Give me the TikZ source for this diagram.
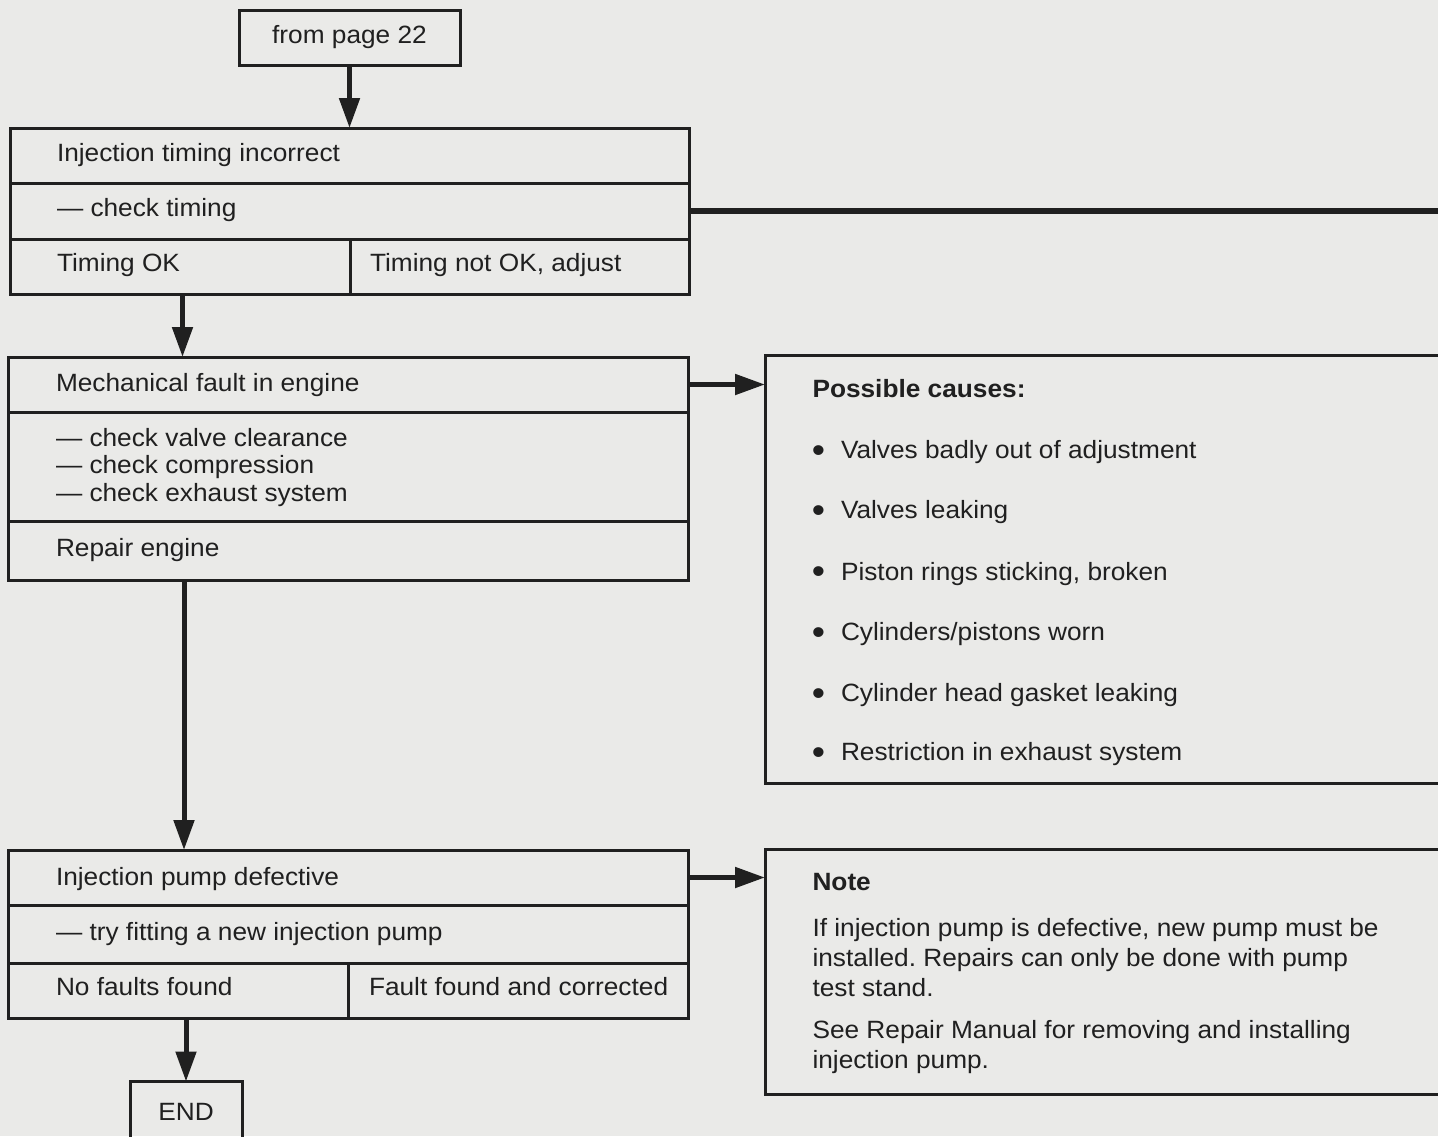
\documentclass[tikz,border=0pt]{standalone}
\usepackage{fontspec}
\setmainfont[FakeStretch=1.05]{Liberation Sans}
\usetikzlibrary{arrows.meta}
\definecolor{ink}{RGB}{32,32,32}
\definecolor{paper}{RGB}{234,234,232}
\newcommand\myfs{\fontsize{25}{30}\selectfont\frenchspacing}
\begin{document}
\begin{tikzpicture}[x=1pt,y=-1pt,
  cell/.style={draw=ink,line width=3pt,rectangle,inner sep=0pt,outer sep=0pt,anchor=north west},
  txt/.style={text=ink,inner sep=0pt,outer sep=0pt,anchor=base west,font=\myfs},
  ctxt/.style={txt,anchor=base},
  btxt/.style={txt,font=\myfs\bfseries},
  dot/.style={txt,anchor=base,font=\fontsize{36}{36}\selectfont},
  conn/.style={draw=ink,line width=5pt},
  arr/.style={conn,-{Triangle[length=30pt,width=20pt]}}]
\useasboundingbox (0,0) rectangle (1438,1136);
\clip (0,0) rectangle (1438,1136);
\fill[paper] (0,0) rectangle (1438,1136);

% from page 22
\node[cell,minimum width=221pt,minimum height=55.5pt] (p22) at (239,10) {};
\node[ctxt] (p22t) at (349.5,43.5) {from page 22};

% box 1
\node[cell,minimum width=679pt,minimum height=55pt] (b1a) at (10,128) {};
\node[cell,minimum width=679pt,minimum height=56pt] (b1b) at (10,183) {};
\node[cell,minimum width=340pt,minimum height=55pt] (b1l) at (10,239) {};
\node[cell,minimum width=339pt,minimum height=55pt] (b1r) at (350,239) {};
\node[txt] (b1at) at (57,161.5) {Injection timing incorrect};
\node[txt] (b1bt) at (57,216) {— check timing};
\node[txt] (b1lt) at (57,271.5) {Timing OK};
\node[txt] (b1rt) at (370,271.5) {Timing not OK, adjust};
\coordinate (offR) at (1450,211);

% box 2
\node[cell,minimum width=679.5pt,minimum height=55pt] (b2a) at (8.5,357) {};
\node[cell,minimum width=679.5pt,minimum height=109pt] (b2b) at (8.5,412) {};
\node[cell,minimum width=679.5pt,minimum height=59pt] (b2c) at (8.5,521) {};
\node[txt] (b2at) at (56,391.5) {Mechanical fault in engine};
\node[txt] (b2b1) at (56,446.5) {— check valve clearance};
\node[txt] (b2b2) at (56,473.5) {— check compression};
\node[txt] (b2b3) at (56,501.5) {— check exhaust system};
\node[txt] (b2ct) at (56,556.5) {Repair engine};

% box 3
\node[cell,minimum width=700pt,minimum height=428pt] (b3) at (765,355) {};
\node[btxt] (b3h) at (812.5,397) {Possible causes:};
\node[dot] (d1) at (818.5,462) {•};
\node[txt] (c1) at (841,458.5) {Valves badly out of adjustment};
\node[dot] (d2) at (818.5,522) {•};
\node[txt] (c2) at (841,518.5) {Valves leaking};
\node[dot] (d3) at (818.5,583.5) {•};
\node[txt] (c3) at (841,580) {Piston rings sticking, broken};
\node[dot] (d4) at (818.5,644) {•};
\node[txt] (c4) at (841,640.5) {Cylinders/pistons worn};
\node[dot] (d5) at (818.5,705) {•};
\node[txt] (c5) at (841,701.5) {Cylinder head gasket leaking};
\node[dot] (d6) at (818.5,764) {•};
\node[txt] (c6) at (841,760.5) {Restriction in exhaust system};

% box 4
\node[cell,minimum width=680.5pt,minimum height=55pt] (b4a) at (8,850) {};
\node[cell,minimum width=680.5pt,minimum height=58pt] (b4b) at (8,905) {};
\node[cell,minimum width=340.5pt,minimum height=55pt] (b4l) at (8,963) {};
\node[cell,minimum width=340pt,minimum height=55pt] (b4r) at (348.5,963) {};
\node[txt] (b4at) at (56,885) {Injection pump defective};
\node[txt] (b4bt) at (56,940) {— try fitting a new injection pump};
\node[txt] (b4lt) at (56,995) {No faults found};
\node[txt] (b4rt) at (369,995) {Fault found and corrected};
\coordinate (j2) at (184,700);

% box 5
\node[cell,minimum width=700pt,minimum height=245pt] (b5) at (765,849) {};
\node[btxt] (b5h) at (812.5,890) {Note};
\node[txt] (n1) at (812.5,936.5) {If injection pump is defective, new pump must be};
\node[txt] (n2) at (812.5,966.5) {installed. Repairs can only be done with pump};
\node[txt] (n3) at (812.5,996) {test stand.};
\node[txt] (n4) at (812.5,1038.5) {See Repair Manual for removing and installing};
\node[txt] (n5) at (812.5,1068.5) {injection pump.};

% END
\node[cell,minimum width=112pt,minimum height=70pt] (endb) at (130,1081.5) {};
\node[ctxt] (endt) at (186,1120) {END};

% connectors
\draw[arr] (p22.south) -- (p22.south |- b1a.north);
\draw[conn,line width=6pt] (b1b.east) -- (b1b.east -| offR);
\draw[arr] ([xshift=2.5pt]b1l.south) -- ([xshift=2.5pt]b1l.south |- b2a.north);
\draw[arr] (b2a.east) -- (b2a.east -| b3.west);
\draw[arr] (b2c.south -| j2) -- (b4a.north -| j2);
\draw[arr] (b4a.east) -- (b4a.east -| b5.west);
\draw[arr] (b4l.south -| endb.north) -- (endb.north);
\end{tikzpicture}
\end{document}
